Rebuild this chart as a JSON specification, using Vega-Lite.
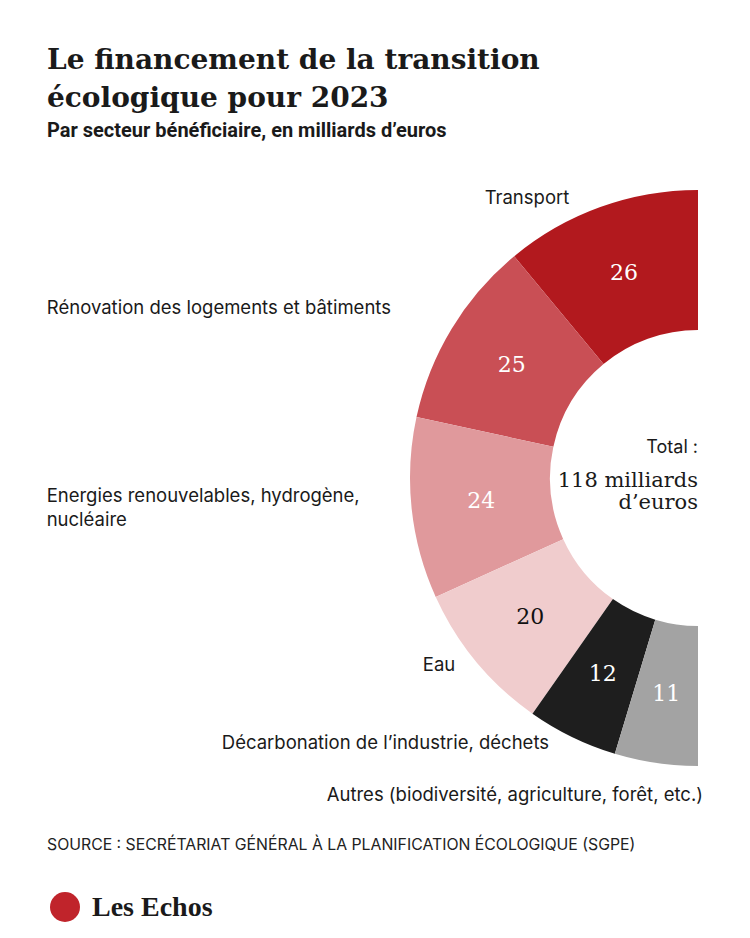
{
  "$schema": "https://vega.github.io/schema/vega-lite/v6.json",
  "width": 703,
  "height": 788,
  "autosize": {"type": "none"},
  "padding": {"left": 47, "top": 150, "right": 0, "bottom": 0},
  "background": "white",
  "config": {"view": {"stroke": null}, "font": "Inter"},
  "title": {
    "text": ["Le financement de la transition", "écologique pour 2023"],
    "subtitle": "Par secteur bénéficiaire, en milliards d’euros",
    "anchor": "start",
    "frame": "group",
    "orient": "top",
    "font": "DejaVu Serif",
    "fontSize": 28,
    "fontWeight": "bold",
    "color": "#1a1a1a",
    "lineHeight": 38,
    "subtitleFont": "Roboto",
    "subtitleFontSize": 20,
    "subtitleFontWeight": "bold",
    "subtitleColor": "#1a1a1a",
    "subtitlePadding": 8,
    "offset": 9
  },
  "data": {
    "values": [
      {"secteur": "Transport", "montant": 26},
      {"secteur": "Rénovation des logements et bâtiments", "montant": 25},
      {"secteur": "Energies renouvelables, hydrogène,\nnucléaire", "montant": 24},
      {"secteur": "Eau", "montant": 20},
      {"secteur": "Décarbonation de l’industrie, déchets", "montant": 12},
      {"secteur": "Autres (biodiversité, agriculture, forêt, etc.)", "montant": 11}
    ]
  },
  "layer": [
    {
      "mark": {"type": "arc", "x": 651, "y": 328, "outerRadius": 288, "innerRadius": 148},
      "encoding": {
        "theta": {"field": "montant", "type": "quantitative", "stack": true, "scale": {"range": [3.14159265, 6.28318531]}},
        "color": {
          "field": "secteur",
          "type": "nominal",
          "legend": null,
          "scale": {
            "domain": ["Transport", "Rénovation des logements et bâtiments", "Energies renouvelables, hydrogène,\nnucléaire", "Eau", "Décarbonation de l’industrie, déchets", "Autres (biodiversité, agriculture, forêt, etc.)"],
            "range": ["#b2191e", "#c94f55", "#e0999c", "#f0cccd", "#1e1e1e", "#a3a3a3"]
          }
        }
      }
    },
    {
      "mark": {"type": "text", "x": 651, "y": 328, "radius": 218, "font": "DejaVu Serif", "fontSize": 22, "baseline": "middle", "align": "center"},
      "encoding": {
        "theta": {"field": "montant", "type": "quantitative", "stack": true},
        "text": {"field": "montant", "type": "quantitative"},
        "color": {"condition": {"test": "datum.secteur === 'Eau'", "value": "#111111"}, "value": "#ffffff"}
      }
    },
    {
      "mark": {"type": "text", "x": 651, "y": 328, "radius": 288, "align": "right", "baseline": "middle", "dx": -31, "dy": -9, "font": "Inter", "fontSize": 18.5, "color": "#1a1a1a", "lineBreak": "\n"},
      "encoding": {
        "theta": {"field": "montant", "type": "quantitative", "stack": true},
        "text": {"condition": {"test": "datum.secteur === 'Transport'", "field": "secteur", "type": "nominal"}, "value": ""}
      }
    },
    {
      "mark": {"type": "text", "x": 651, "y": 328, "radius": 288, "align": "left", "baseline": "middle", "dx": -405, "dy": -21, "font": "Inter", "fontSize": 18.5, "color": "#1a1a1a", "lineBreak": "\n"},
      "encoding": {
        "theta": {"field": "montant", "type": "quantitative", "stack": true},
        "text": {"condition": {"test": "indexof(datum.secteur, 'Rénovation') === 0", "field": "secteur", "type": "nominal"}, "value": ""}
      }
    },
    {
      "mark": {"type": "text", "x": 651, "y": 328, "radius": 288, "align": "left", "baseline": "middle", "dx": -365, "dy": -13, "font": "Inter", "fontSize": 18.5, "lineHeight": 24, "color": "#1a1a1a", "lineBreak": "\n"},
      "encoding": {
        "theta": {"field": "montant", "type": "quantitative", "stack": true},
        "text": {"condition": {"test": "indexof(datum.secteur, 'Energies') === 0", "field": "secteur", "type": "nominal"}, "value": ""}
      }
    },
    {
      "mark": {"type": "text", "x": 651, "y": 328, "radius": 288, "align": "right", "baseline": "middle", "dx": -21, "dy": 3, "font": "Inter", "fontSize": 18.5, "color": "#1a1a1a", "lineBreak": "\n"},
      "encoding": {
        "theta": {"field": "montant", "type": "quantitative", "stack": true},
        "text": {"condition": {"test": "datum.secteur === 'Eau'", "field": "secteur", "type": "nominal"}, "value": ""}
      }
    },
    {
      "mark": {"type": "text", "x": 651, "y": 328, "radius": 288, "align": "right", "baseline": "middle", "dx": -23, "dy": 6, "font": "Inter", "fontSize": 18.5, "color": "#1a1a1a", "lineBreak": "\n"},
      "encoding": {
        "theta": {"field": "montant", "type": "quantitative", "stack": true},
        "text": {"condition": {"test": "indexof(datum.secteur, 'Décarbonation') === 0", "field": "secteur", "type": "nominal"}, "value": ""}
      }
    },
    {
      "mark": {"type": "text", "x": 651, "y": 328, "radius": 288, "align": "right", "baseline": "middle", "dx": 47, "dy": 32, "font": "Inter", "fontSize": 18.5, "color": "#1a1a1a", "lineBreak": "\n"},
      "encoding": {
        "theta": {"field": "montant", "type": "quantitative", "stack": true},
        "text": {"condition": {"test": "indexof(datum.secteur, 'Autres') === 0", "field": "secteur", "type": "nominal"}, "value": ""}
      }
    },
    {
      "data": {"values": [{"texte": "Total :"}]},
      "mark": {"type": "text", "x": 651, "y": 298, "align": "right", "baseline": "middle", "font": "Inter", "fontSize": 18, "color": "#1a1a1a"},
      "encoding": {"text": {"field": "texte", "type": "nominal"}}
    },
    {
      "data": {"values": [{"texte": "118 milliards\nd’euros"}]},
      "mark": {"type": "text", "x": 651, "y": 331, "align": "right", "baseline": "middle", "font": "DejaVu Serif", "fontSize": 21, "lineHeight": 22, "color": "#1a1a1a", "lineBreak": "\n"},
      "encoding": {"text": {"field": "texte", "type": "nominal"}}
    },
    {
      "data": {"values": [{"texte": "SOURCE : SECRÉTARIAT GÉNÉRAL À LA PLANIFICATION ÉCOLOGIQUE (SGPE)"}]},
      "mark": {"type": "text", "x": 0, "y": 695, "align": "left", "baseline": "middle", "font": "Inter", "fontSize": 15.8, "color": "#222222"},
      "encoding": {"text": {"field": "texte", "type": "nominal"}}
    },
    {
      "data": {"values": [{"logo": "Les Echos"}]},
      "mark": {"type": "point", "x": 18, "y": 757, "shape": "circle", "size": 900, "filled": true, "opacity": 1, "color": "#c0242b"},
      "encoding": {}
    },
    {
      "data": {"values": [{"texte": "Les Echos"}]},
      "mark": {"type": "text", "x": 45, "y": 758, "align": "left", "baseline": "middle", "font": "Liberation Serif", "fontWeight": "bold", "fontSize": 28, "letterSpacing": -1.6, "color": "#1a1a1a"},
      "encoding": {"text": {"field": "texte", "type": "nominal"}}
    }
  ]
}
